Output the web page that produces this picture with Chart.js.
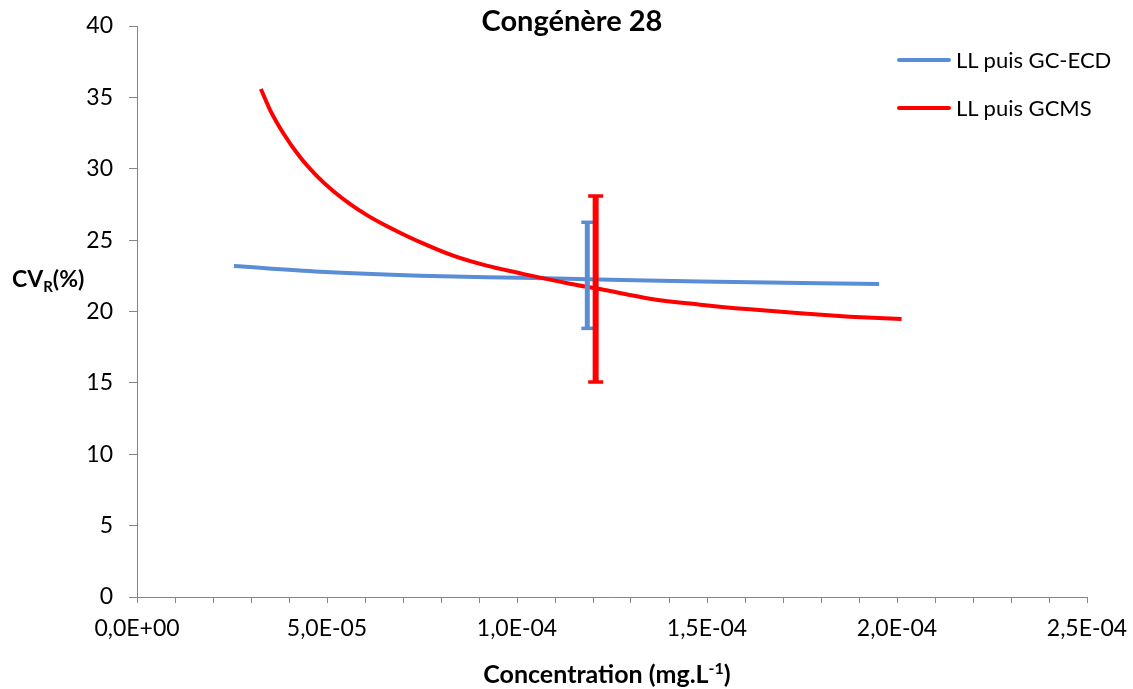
<!DOCTYPE html>
<html>
<head>
<meta charset="utf-8">
<script src="https://cdn.jsdelivr.net/npm/chart.js@4.4.0/dist/chart.umd.min.js"></script>
<style>
  body { margin: 0; background: #fff; font-family: Lato, "Noto Sans", sans-serif; }
  #wrap { position: relative; width: 1133px; height: 689px; }
  #chart { position: absolute; left: 0; top: 0; }
  .txt { position: absolute; color: #000; white-space: nowrap; }
  .bold { font-weight: bold; }
  .dn { position: relative; top: 0.35em; vertical-align: baseline; line-height: 0; }
  .up { position: relative; top: -0.55em; vertical-align: baseline; line-height: 0; }
  .key { position: absolute; width: 54px; height: 4px; border-radius: 2px; }
</style>
</head>
<body>
<div id="wrap">
  <canvas id="chart" width="1133" height="689"></canvas>
  <div class="txt bold" style="left:422px; width:300px; text-align:center; top:5px; font-size:29px; line-height:30px;">Congénère 28</div>
  <div class="txt bold" style="left:12px; top:265px; font-size:23px; line-height:26px;">CV<span class="dn" style="font-size:15px;">R</span>(%)</div>
  <div class="txt bold" style="left:357px; width:500px; text-align:center; top:659px; font-size:25px; line-height:28px;">Concentration (mg.L<span class="up" style="font-size:16px;">-1</span>)</div>
  <div class="key" style="left:897px; top:58px; background:#5A8ED4;"></div>
  <div class="txt" style="left:956px; top:47px; font-size:22px; line-height:26px;">LL puis GC-ECD</div>
  <div class="key" style="left:897px; top:106px; background:#FF0000;"></div>
  <div class="txt" style="left:956px; top:95px; font-size:22px; line-height:26px;">LL puis GCMS</div>
</div>
<script>
// LL puis GC-ECD curve
const ecdX = [2.55e-5, 4.82e-5, 7.45e-5, 1.008e-4, 1.218e-4, 1.482e-4, 1.953e-4];
const ecdY = [23.19, 22.79, 22.51, 22.36, 22.24, 22.10, 21.93];

// LL puis GCMS curve
const gcmsX = [3.26e-5, 3.50e-5, 3.85e-5, 4.29e-5, 4.73e-5, 5.17e-5, 5.61e-5, 6.04e-5,
               6.48e-5, 6.92e-5, 7.45e-5, 8.32e-5, 9.20e-5, 1.008e-4, 1.061e-4, 1.139e-4,
               1.218e-4, 1.350e-4, 1.482e-4, 1.613e-4, 1.745e-4, 1.876e-4, 2.012e-4];
const gcmsY = [35.59, 34.13, 32.49, 30.82, 29.50, 28.42, 27.52, 26.77,
               26.11, 25.52, 24.86, 23.91, 23.21, 22.68, 22.37, 21.95,
               21.57, 20.90, 20.48, 20.15, 19.87, 19.64, 19.47];

// error bars: [GC-ECD, GCMS]
const errX = [1.185e-4, 1.207e-4];
const errLow = [18.82, 15.06];
const errHigh = [26.25, 28.09];

const blue = '#5A8ED4';
const red = '#FF0000';
const axisGrey = '#868686';

const toPts = (xs, ys) => xs.map((x, i) => ({ x: x, y: ys[i] }));

function sciLabel(v) {
  const [m, e] = v.toExponential(1).split('e');
  const exp = parseInt(e, 10);
  return m.replace('.', ',') + 'E' + (exp < 0 ? '-' : '+') + String(Math.abs(exp)).padStart(2, '0');
}

function errSet(i, color, width, capRadius, order) {
  return {
    data: [{ x: errX[i], y: errLow[i] }, { x: errX[i], y: errHigh[i] }],
    showLine: true,
    borderColor: color,
    borderWidth: width,
    pointStyle: 'line',
    pointRadius: capRadius,
    pointBorderWidth: 3.5,
    pointBorderColor: color,
    order: order
  };
}

new Chart(document.getElementById('chart'), {
  type: 'scatter',
  data: {
    datasets: [
      errSet(1, red, 6, 7.5, 0),
      errSet(0, blue, 5, 6, 1),
      {
        label: 'LL puis GCMS',
        data: toPts(gcmsX, gcmsY),
        showLine: true,
        borderColor: red,
        borderWidth: 4,
        pointRadius: 0,
        cubicInterpolationMode: 'monotone',
        order: 2
      },
      {
        label: 'LL puis GC-ECD',
        data: toPts(ecdX, ecdY),
        showLine: true,
        borderColor: blue,
        borderWidth: 4,
        pointRadius: 0,
        cubicInterpolationMode: 'monotone',
        order: 3
      }
    ]
  },
  options: {
    responsive: false,
    animation: false,
    layout: { padding: { top: 26, right: 46, bottom: 0, left: 0 } },
    plugins: { legend: { display: false }, tooltip: { enabled: false }, title: { display: false } },
    scales: {
      x: {
        type: 'linear',
        min: 0,
        max: 2.5e-4,
        afterFit: s => { s.height = 92; s.paddingLeft = 0; s.paddingRight = 0; },
        ticks: {
          stepSize: 1e-5,
          autoSkip: false,
          maxRotation: 0,
          padding: 12,
          color: '#000',
          font: { family: 'Lato', size: 23 },
          callback: (v, i) => (i % 5 === 0 ? sciLabel(v) : '')
        },
        grid: { drawOnChartArea: false, tickLength: 6, color: axisGrey },
        border: { color: axisGrey, width: 1 }
      },
      y: {
        min: 0,
        max: 40,
        afterFit: s => { s.width = 137; s.paddingTop = 0; s.paddingBottom = 0; },
        ticks: {
          stepSize: 5,
          padding: 16,
          color: '#000',
          font: { family: 'Lato', size: 23 }
        },
        grid: { drawOnChartArea: false, tickLength: 8, color: axisGrey },
        border: { color: axisGrey, width: 1 }
      }
    }
  }
});
</script>
</body>
</html>
